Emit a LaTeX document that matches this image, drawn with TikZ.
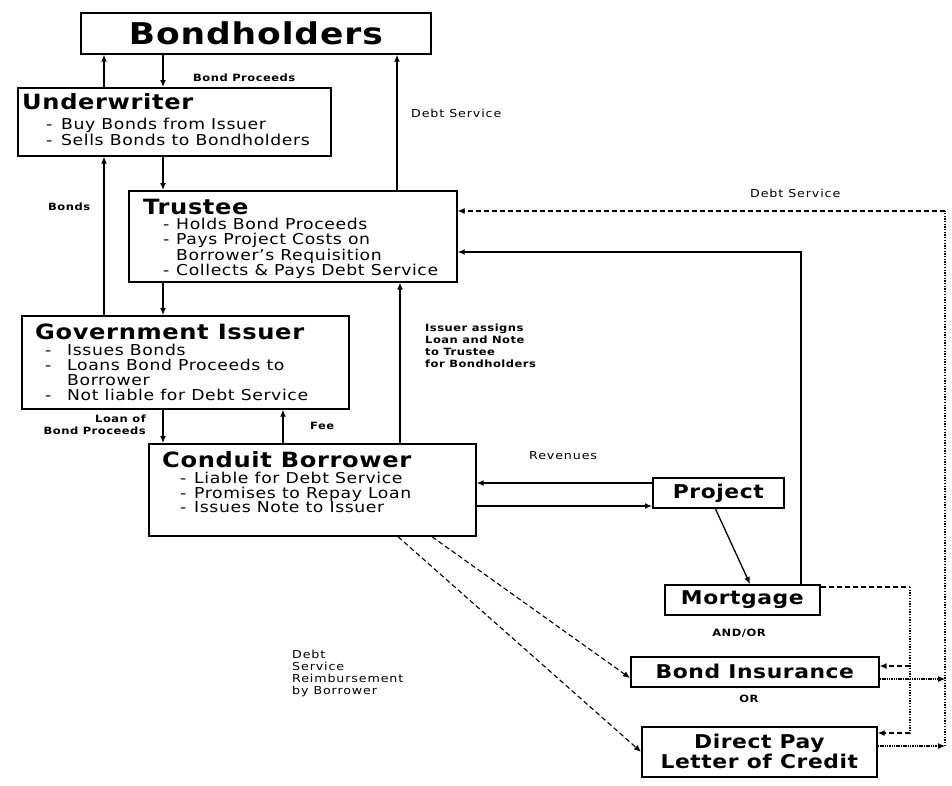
\documentclass[tikz,border=0pt]{standalone}
\usepackage{fontspec}
\setmainfont{DejaVu Sans}
\newfontfamily\bigf[FakeStretch=1.15, LetterSpace=3]{DejaVu Sans}
\newfontfamily\itf[FakeStretch=1.15, LetterSpace=4]{DejaVu Sans}
\newfontfamily\smf[FakeStretch=1.15, LetterSpace=8]{DejaVu Sans}
\newfontfamily\smbf[FakeStretch=1.15, LetterSpace=5]{DejaVu Sans}
\newcommand{\dsh}[1]{\makebox[#1][l]{-}}
\usetikzlibrary{arrows.meta}
\begin{document}
\begin{tikzpicture}[x=1pt,y=-1pt,
  box/.style={draw, line width=1.7pt, inner sep=0pt, anchor=north west, align=center,
    font=\bigf\bfseries\fontsize{19}{20}\selectfont},
  ttl/.style={anchor=west, inner sep=0pt, font=\bigf\bfseries\fontsize{21}{24}\selectfont},
  itm/.style={anchor=north west, inner sep=0pt, align=left},
  lbl/.style={inner sep=0pt, align=left, font=\smf\fontsize{11}{12}\selectfont},
  blbl/.style={inner sep=0pt, align=left, font=\smbf\bfseries\fontsize{10}{12}\selectfont},
  arr/.style={line width=1.3pt, -{Latex[length=7pt,width=6pt]}},
  darr/.style={line width=1.1pt, dash pattern=on 5pt off 3pt, -{Latex[length=7pt,width=6pt]}},
  dline/.style={line width=1.2pt, dash pattern=on 5pt off 3pt},
  dotl/.style={line width=1.9pt, dash pattern=on 1.3pt off 1.4pt},
  fdarr/.style={line width=1.1pt, dash pattern=on 1.5pt off 0.8pt, -{Latex[length=7pt,width=6pt]}},
]
\useasboundingbox (0,0) rectangle (952,785);

% ---------- boxes ----------
\node[box, minimum width=350pt, minimum height=41pt,
      font=\bigf\bfseries\fontsize{30}{34}\selectfont] (bh) at (80,12) {Bondholders};

\node[box, minimum width=313pt, minimum height=68pt] (uw) at (17,87) {};
\node[ttl] (uwt) at (22,102) {Underwriter};
\node[itm, font=\itf\fontsize{15}{13.3}\selectfont] (uwi) at (46,118)
  {\dsh{15pt}Buy Bonds from Issuer\\\dsh{15pt}Sells Bonds to Bondholders};

\node[box, minimum width=328pt, minimum height=91pt] (tr) at (128,190) {};
\node[ttl] (trt) at (143,207) {Trustee};
\node[itm, font=\itf\fontsize{15}{15.3}\selectfont] (tri) at (163,218)
  {\dsh{13pt}Holds Bond Proceeds\\\dsh{13pt}Pays Project Costs on\\
   \hspace*{13pt}Borrower’s Requisition\\\dsh{13pt}Collects \& Pays Debt Service};

\node[box, minimum width=327pt, minimum height=93pt] (gi) at (21,315) {};
\node[ttl] (git) at (35,332) {Government Issuer};
\node[itm, font=\itf\fontsize{15}{15}\selectfont] (gii) at (45,344)
  {\dsh{22pt}Issues Bonds\\\dsh{22pt}Loans Bond Proceeds to\\
   \hspace*{22pt}Borrower\\\dsh{22pt}Not liable for Debt Service};

\node[box, minimum width=327pt, minimum height=92pt] (cb) at (148,443) {};
\node[ttl] (cbt) at (162,460) {Conduit Borrower};
\node[itm, font=\itf\fontsize{15}{14.5}\selectfont] (cbi) at (180,472)
  {\dsh{14pt}Liable for Debt Service\\\dsh{14pt}Promises to Repay Loan\\\dsh{14pt}Issues Note to Issuer};

\node[box, minimum width=131pt, minimum height=30pt] (pj) at (652,477) {Project};
\node[box, minimum width=155pt, minimum height=30pt] (mg) at (664,584) {Mortgage};
\node[box, minimum width=248pt, minimum height=30pt] (bi) at (630,656) {Bond Insurance};
\node[box, minimum width=235pt, minimum height=50pt] (lc) at (641,726) {Direct Pay\\Letter of Credit};

% ---------- helper coordinates ----------
\coordinate (x104) at (104,0);
\coordinate (x163) at (163,0);
\coordinate (x283) at (283,0);
\coordinate (x397) at (397,0);
\coordinate (x400) at (400,0);
\coordinate (x398) at (398,0);
\coordinate (x432) at (432,0);
\coordinate (x750) at (750,0);
\coordinate (x801) at (801,0);
\coordinate (dx) at (910,0);
\coordinate (rx) at (945,0);
\coordinate (y211) at (0,211);
\coordinate (y252) at (0,252);
\coordinate (y483) at (0,483);
\coordinate (y506) at (0,506);
\coordinate (y587) at (0,587);
\coordinate (y666) at (0,666);
\coordinate (y679) at (0,679);
\coordinate (y678) at (0,678);
\coordinate (y733) at (0,733);
\coordinate (y746) at (0,746);

% ---------- solid connectors ----------
\draw[arr] (x104 |- uw.north) -- (x104 |- bh.south);
\draw[arr] (x163 |- bh.south) -- (x163 |- uw.north);
\draw[arr] (x397 |- tr.north) -- (x397 |- bh.south);
\draw[arr] (x163 |- uw.south) -- (x163 |- tr.north);
\draw[arr] (x104 |- gi.north) -- (x104 |- uw.south);
\draw[arr] (x163 |- tr.south) -- (x163 |- gi.north);
\draw[arr] (x163 |- gi.south) -- (x163 |- cb.north);
\draw[arr] (x283 |- cb.north) -- (x283 |- gi.south);
\draw[arr] (x400 |- cb.north) -- (x400 |- tr.south);
\draw[arr] (pj.west |- y483) -- (cb.east |- y483);
\draw[arr] (cb.east |- y506) -- (pj.west |- y506);
\draw[arr] ([xshift=-3pt]pj.south) -- (x750 |- mg.north);
\draw[arr] (x801 |- mg.north) -- (x801 |- y252) -- (tr.east |- y252);

% ---------- dashed connectors ----------
\draw[darr] (x432 |- cb.south) -- (bi.west |- y678);
\draw[darr] (x398 |- cb.south) -- (lc.west);
\draw[dline] (mg.east |- y587) -- (dx |- y587);
\draw[dotl] (dx |- y587) -- (dx |- y733);
\draw[darr] (dx |- y666) -- (bi.east |- y666);
\draw[darr] (dx |- y733) -- (lc.east |- y733);
\draw[fdarr] (bi.east |- y679) -- (rx |- y679);
\draw[fdarr] (lc.east |- y746) -- (rx |- y746);
\draw[dotl] (rx |- y746) -- (rx |- y211);
\draw[darr] (rx |- y211) -- (tr.east |- y211);

% ---------- labels ----------
\node[blbl, anchor=west] (lbp) at (193,78) {Bond Proceeds};
\node[lbl, anchor=west] (lds1) at (411,113) {Debt Service};
\node[blbl, anchor=west] (lbo) at (48,207) {Bonds};
\node[lbl, anchor=west] (lds2) at (750,193) {Debt Service};
\node[blbl, anchor=east, align=right] (llo) at (146,425) {Loan of\\Bond Proceeds};
\node[blbl, anchor=west] (lfee) at (310,426) {Fee};
\node[blbl, anchor=west] (lia) at (425,346) {Issuer assigns\\Loan and Note\\to Trustee\\for Bondholders};
\node[lbl, anchor=west] (lrev) at (529,456) {Revenues};
\node[blbl] (land) at (739,633) {AND/OR};
\node[blbl] (lor) at (749,699) {OR};
\node[lbl, anchor=west] (ldsr) at (292,673) {Debt\\Service\\Reimbursement\\by Borrower};
\end{tikzpicture}
\end{document}
